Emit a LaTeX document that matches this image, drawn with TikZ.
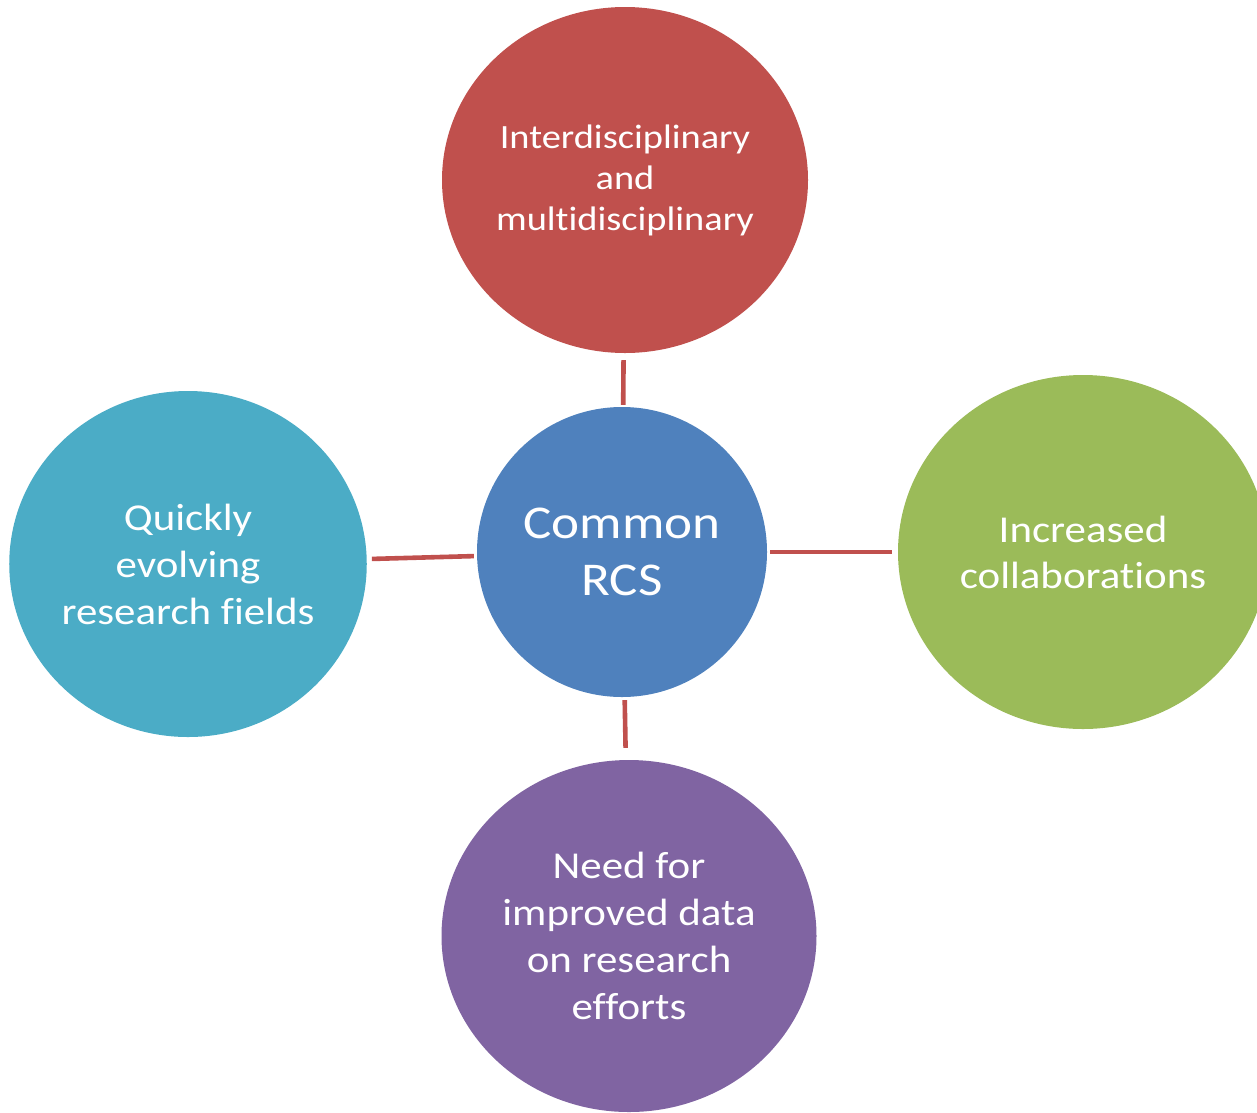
\documentclass[tikz,border=0pt]{standalone}
\usepackage{fontspec}
\setmainfont{Carlito}[FakeStretch=1.13, Ligatures={NoCommon}]
\usetikzlibrary{shapes.geometric}
\definecolor{cred}{HTML}{C0504D}
\definecolor{cblue}{HTML}{4F81BD}
\definecolor{cgreen}{HTML}{9BBB59}
\definecolor{cpurple}{HTML}{8064A2}
\definecolor{ccyan}{HTML}{4BACC6}
\tikzset{
  bubble/.style={ellipse, inner sep=0pt, text=white, align=center},
  link/.style={draw=cred, line width=4.6pt}
}
\begin{document}
\begin{tikzpicture}[x=1pt,y=-1pt]
\useasboundingbox (0,0) rectangle (1257,1112);
\begin{scope}
\clip (0,0) rectangle (1257,1112);
\node[bubble, fill=cred, minimum width=366pt, minimum height=346pt,
  font=\fontsize{34}{41}\selectfont] (top) at (625,180)
  {Interdisciplinary\\and\\multidisciplinary};
\node[bubble, fill=cblue, minimum width=290pt, minimum height=290pt,
  font=\fontsize{47}{57}\selectfont] (center) at (622,552)
  {Common\\RCS};
\node[bubble, fill=cgreen, minimum width=370pt, minimum height=354pt,
  font=\fontsize{38}{46}\selectfont] (right) at (1083,552)
  {Increased\\collaborations};
\node[bubble, fill=ccyan, minimum width=357pt, minimum height=346pt,
  font=\fontsize{38}{47}\selectfont] (left) at (188,564)
  {Quickly\\evolving\\research fields};
\node[bubble, fill=cpurple, minimum width=375pt, minimum height=352pt,
  font=\fontsize{38}{47}\selectfont] (bottom) at (629,936)
  {Need for\\improved data\\on research\\efforts};
\draw[link, shorten <=2pt, shorten >=7pt] (center) -- (top);
\draw[link, shorten <=3pt, shorten >=6pt] (center) -- (right);
\draw[link, shorten <=3pt, shorten >=5pt] (center) -- (left);
\draw[link, shorten <=3pt, shorten >=12pt] (center) -- (bottom);
\end{scope}
\end{tikzpicture}
\end{document}
